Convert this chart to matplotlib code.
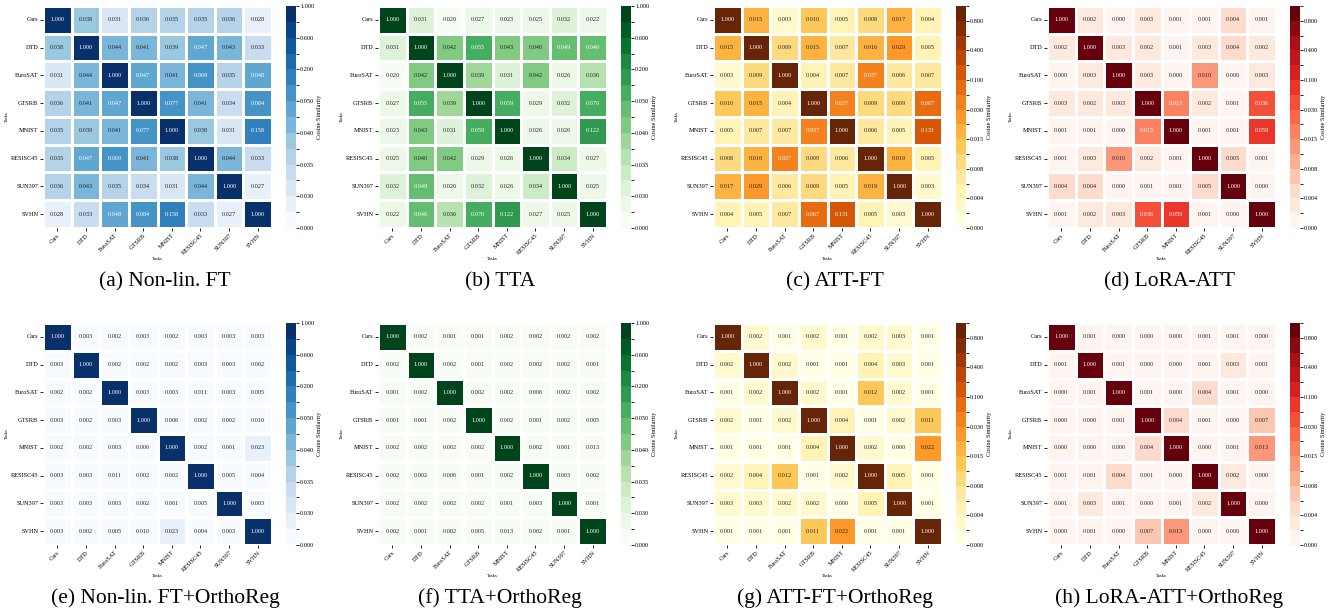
import numpy as np
import matplotlib
matplotlib.use("Agg")
import matplotlib.pyplot as plt
import seaborn as sns
from matplotlib.colors import ListedColormap, BoundaryNorm

plt.rcParams['font.family'] = 'serif'
plt.rcParams['font.serif'] = ['Liberation Serif', 'DejaVu Serif']

tasks = ["Cars", "DTD", "EuroSAT", "GTSRB", "MNIST", "RESISC45", "SUN397", "SVHN"]

# cosine similarity matrices
nonlin_ft = [
    [1.000, 0.038, 0.031, 0.036, 0.035, 0.035, 0.036, 0.028],
    [0.038, 1.000, 0.044, 0.041, 0.039, 0.047, 0.043, 0.033],
    [0.031, 0.044, 1.000, 0.047, 0.041, 0.069, 0.035, 0.048],
    [0.036, 0.041, 0.047, 1.000, 0.077, 0.041, 0.034, 0.084],
    [0.035, 0.039, 0.041, 0.077, 1.000, 0.038, 0.031, 0.158],
    [0.035, 0.047, 0.069, 0.041, 0.038, 1.000, 0.044, 0.033],
    [0.036, 0.043, 0.035, 0.034, 0.031, 0.044, 1.000, 0.027],
    [0.028, 0.033, 0.048, 0.084, 0.158, 0.033, 0.027, 1.000],
]
tta = [
    [1.000, 0.031, 0.020, 0.027, 0.023, 0.025, 0.032, 0.022],
    [0.031, 1.000, 0.042, 0.055, 0.043, 0.040, 0.049, 0.046],
    [0.020, 0.042, 1.000, 0.039, 0.031, 0.042, 0.026, 0.036],
    [0.027, 0.055, 0.039, 1.000, 0.059, 0.029, 0.032, 0.070],
    [0.023, 0.043, 0.031, 0.059, 1.000, 0.026, 0.026, 0.122],
    [0.025, 0.040, 0.042, 0.029, 0.026, 1.000, 0.034, 0.027],
    [0.032, 0.049, 0.026, 0.032, 0.026, 0.034, 1.000, 0.025],
    [0.022, 0.046, 0.036, 0.070, 0.122, 0.027, 0.025, 1.000],
]
att_ft = [
    [1.000, 0.015, 0.003, 0.010, 0.005, 0.008, 0.017, 0.004],
    [0.015, 1.000, 0.009, 0.015, 0.007, 0.016, 0.029, 0.005],
    [0.003, 0.009, 1.000, 0.004, 0.007, 0.037, 0.006, 0.007],
    [0.010, 0.015, 0.004, 1.000, 0.037, 0.009, 0.009, 0.067],
    [0.005, 0.007, 0.007, 0.037, 1.000, 0.006, 0.005, 0.131],
    [0.008, 0.016, 0.037, 0.009, 0.006, 1.000, 0.019, 0.005],
    [0.017, 0.029, 0.006, 0.009, 0.005, 0.019, 1.000, 0.003],
    [0.004, 0.005, 0.007, 0.067, 0.131, 0.005, 0.003, 1.000],
]
lora_att = [
    [1.000, 0.002, 0.000, 0.003, 0.001, 0.001, 0.004, 0.001],
    [0.002, 1.000, 0.003, 0.002, 0.001, 0.003, 0.004, 0.002],
    [0.000, 0.003, 1.000, 0.003, 0.000, 0.010, 0.000, 0.003],
    [0.003, 0.002, 0.003, 1.000, 0.015, 0.002, 0.001, 0.036],
    [0.001, 0.001, 0.000, 0.015, 1.000, 0.001, 0.001, 0.059],
    [0.001, 0.003, 0.010, 0.002, 0.001, 1.000, 0.005, 0.001],
    [0.004, 0.004, 0.000, 0.001, 0.001, 0.005, 1.000, 0.000],
    [0.001, 0.002, 0.003, 0.036, 0.059, 0.001, 0.000, 1.000],
]
nonlin_ft_ortho = [
    [1.000, 0.003, 0.002, 0.003, 0.002, 0.003, 0.003, 0.003],
    [0.003, 1.000, 0.002, 0.002, 0.002, 0.003, 0.003, 0.002],
    [0.002, 0.002, 1.000, 0.003, 0.003, 0.011, 0.003, 0.005],
    [0.003, 0.002, 0.003, 1.000, 0.006, 0.002, 0.002, 0.010],
    [0.002, 0.002, 0.003, 0.006, 1.000, 0.002, 0.001, 0.023],
    [0.003, 0.003, 0.011, 0.002, 0.002, 1.000, 0.005, 0.004],
    [0.003, 0.003, 0.003, 0.002, 0.001, 0.005, 1.000, 0.003],
    [0.003, 0.002, 0.005, 0.010, 0.023, 0.004, 0.003, 1.000],
]
tta_ortho = [
    [1.000, 0.002, 0.001, 0.001, 0.002, 0.002, 0.002, 0.002],
    [0.002, 1.000, 0.002, 0.001, 0.002, 0.002, 0.002, 0.001],
    [0.001, 0.002, 1.000, 0.002, 0.002, 0.006, 0.002, 0.002],
    [0.001, 0.001, 0.002, 1.000, 0.002, 0.001, 0.002, 0.005],
    [0.002, 0.002, 0.002, 0.002, 1.000, 0.002, 0.001, 0.013],
    [0.002, 0.002, 0.006, 0.001, 0.002, 1.000, 0.003, 0.002],
    [0.002, 0.002, 0.002, 0.002, 0.001, 0.003, 1.000, 0.001],
    [0.002, 0.001, 0.002, 0.005, 0.013, 0.002, 0.001, 1.000],
]
att_ft_ortho = [
    [1.000, 0.002, 0.001, 0.002, 0.001, 0.002, 0.003, 0.001],
    [0.002, 1.000, 0.002, 0.001, 0.001, 0.004, 0.003, 0.001],
    [0.001, 0.002, 1.000, 0.002, 0.001, 0.012, 0.002, 0.001],
    [0.002, 0.001, 0.002, 1.000, 0.004, 0.001, 0.002, 0.011],
    [0.001, 0.001, 0.001, 0.004, 1.000, 0.002, 0.000, 0.022],
    [0.002, 0.004, 0.012, 0.001, 0.002, 1.000, 0.005, 0.001],
    [0.003, 0.003, 0.002, 0.002, 0.000, 0.005, 1.000, 0.001],
    [0.001, 0.001, 0.001, 0.011, 0.022, 0.001, 0.001, 1.000],
]
lora_att_ortho = [
    [1.000, 0.001, 0.000, 0.000, 0.000, 0.001, 0.001, 0.000],
    [0.001, 1.000, 0.001, 0.000, 0.000, 0.001, 0.003, 0.001],
    [0.000, 0.001, 1.000, 0.001, 0.000, 0.004, 0.001, 0.000],
    [0.000, 0.000, 0.001, 1.000, 0.004, 0.001, 0.000, 0.007],
    [0.000, 0.000, 0.000, 0.004, 1.000, 0.000, 0.001, 0.013],
    [0.001, 0.001, 0.004, 0.001, 0.000, 1.000, 0.002, 0.000],
    [0.001, 0.003, 0.001, 0.000, 0.001, 0.002, 1.000, 0.000],
    [0.000, 0.001, 0.000, 0.007, 0.013, 0.000, 0.000, 1.000],
]

captions = ["(a) Non-lin. FT", "(b) TTA", "(c) ATT-FT", "(d) LoRA-ATT",
            "(e) Non-lin. FT+OrthoReg", "(f) TTA+OrthoReg",
            "(g) ATT-FT+OrthoReg", "(h) LoRA-ATT+OrthoReg"]

# colour bins (non-uniform, every other one labelled)
bounds_ft = [0, 0.021, 0.03, 0.0325, 0.035, 0.0375, 0.04, 0.045, 0.05, 0.1, 0.2, 0.4, 0.6, 0.8, 1.0]
bounds_att = [0, 0.002, 0.004, 0.006, 0.008, 0.01, 0.015, 0.02, 0.03, 0.05, 0.1, 0.2, 0.4, 0.6, 0.8, 1.0]

panels = [
    (nonlin_ft, "Blues", bounds_ft),
    (tta, "Greens", bounds_ft),
    (att_ft, "YlOrBr", bounds_att),
    (lora_att, "Reds", bounds_att),
    (nonlin_ft_ortho, "Blues", bounds_ft),
    (tta_ortho, "Greens", bounds_ft),
    (att_ft_ortho, "YlOrBr", bounds_att),
    (lora_att_ortho, "Reds", bounds_att),
]

W, H = 1340, 614
fig = plt.figure(figsize=(W / 100, H / 100), dpi=100)

lefts = [43, 378, 713, 1047]
tops = [6, 323]
hm_w, hm_h = 229, 222
cap_y = [282, 598]
fs = 4.5

for i, (mat, cname, bounds) in enumerate(panels):
    r, c = divmod(i, 4)
    left, top = lefts[c], tops[r]
    ax = fig.add_axes([left / W, 1 - (top + hm_h) / H, hm_w / W, hm_h / H])
    cax = fig.add_axes([(left + 243) / W, 1 - (top + hm_h) / H, 10 / W, hm_h / H])

    n = len(bounds) - 1
    cmap = ListedColormap(plt.get_cmap(cname)(np.linspace(0, 1, n)))
    norm = BoundaryNorm(bounds, ncolors=n)

    sns.heatmap(np.array(mat), ax=ax, cbar_ax=cax, cmap=cmap, norm=norm,
                vmin=0, vmax=1, annot=True, fmt=".3f",
                annot_kws={"fontsize": fs}, linewidths=0.8, linecolor="white",
                xticklabels=tasks, yticklabels=tasks)

    ax.set_xticklabels(tasks, rotation=45, ha="right", rotation_mode="anchor", fontsize=fs)
    ax.set_yticklabels(tasks, rotation=0, fontsize=fs)
    ax.tick_params(length=2, width=0.6, pad=1.5)
    ax.set_xlabel("Tasks", fontsize=3.5, labelpad=1)
    ax.set_ylabel("Tasks", fontsize=3.5, labelpad=1)

    cb = ax.collections[0].colorbar
    cb.set_ticks(bounds)
    labels = [f"{b:.3f}" if k % 2 == 0 else "" for k, b in enumerate(bounds)]
    cb.set_ticklabels(labels)
    cb.ax.tick_params(labelsize=fs, length=2, width=0.6, pad=1)
    cb.set_label("Cosine Similarity", fontsize=fs, labelpad=2)

    fig.text((left + 122) / W, 1 - cap_y[r] / H, captions[i],
             ha="center", va="center", fontsize=15.5)

fig.savefig("out.png", dpi=100)
